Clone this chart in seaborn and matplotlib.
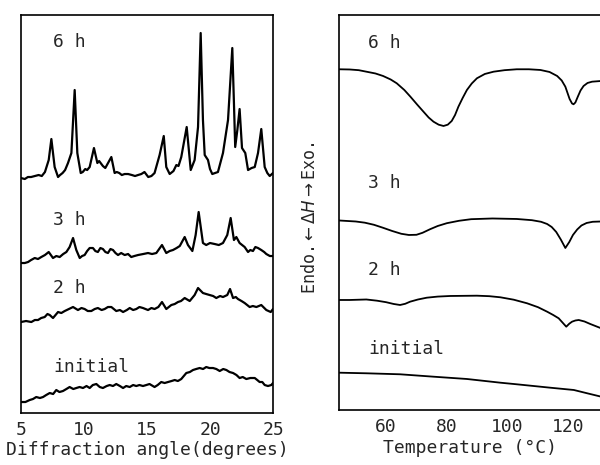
import numpy as np
import pandas as pd
import matplotlib
matplotlib.use('Agg')
import matplotlib.pyplot as plt
import seaborn as sns

# ── XRD data (angle in degrees, intensity in arbitrary units incl. offset) ──
xrd_6h_angle = [5.0, 5.3, 5.55, 5.8, 6.1, 6.4, 6.65, 6.9, 7.2, 7.41, 7.67, 7.94, 8.1, 8.3,
                8.5, 8.73, 9.0, 9.26, 9.47, 9.74, 9.9, 10.1, 10.25, 10.45, 10.79, 11.06,
                11.2, 11.32, 11.5, 11.69, 12.17, 12.43, 12.6, 12.8, 13.0, 13.23, 13.5,
                13.8, 14.05, 14.29, 14.55, 14.8, 15.1, 15.35, 15.6, 16.0, 16.33, 16.53,
                16.8, 17.1, 17.33, 17.5, 17.72, 18.15, 18.47, 18.78, 19.05, 19.26, 19.44,
                19.58, 19.84, 20.0, 20.18, 20.4, 20.63, 21.03, 21.43, 21.77, 21.9, 22.0,
                22.17, 22.35, 22.54, 22.8, 23.02, 23.3, 23.55, 23.81, 24.07, 24.34, 24.55,
                24.74, 25.0]
xrd_6h_int = [235, 234, 236, 236, 237, 238, 237, 241, 253, 274, 246, 236, 238, 240,
              243, 250, 260, 323, 260, 240, 241, 244, 243, 246, 265, 250,
              252, 250, 247, 245, 256, 240, 241, 240, 238, 239, 239,
              238, 237, 238, 239, 241, 236, 237, 240, 258, 277, 246,
              239, 242, 248, 247, 256, 286, 243, 253, 286, 380, 293,
              258, 253, 244, 239, 240, 241, 260, 293, 365, 310, 266,
              283, 304, 265, 260, 243, 245, 246, 260, 284, 246, 240,
              237, 240]

xrd_3h_angle = [5.0, 5.3, 5.56, 5.8, 6.09, 6.35, 6.61, 6.9, 7.2, 7.54, 7.8, 8.07, 8.35,
                8.6, 8.86, 9.13, 9.39, 9.66, 9.85, 10.05, 10.25, 10.45, 10.71, 10.9, 11.1,
                11.3, 11.5, 11.7, 11.9, 12.1, 12.3, 12.5, 12.7, 12.95, 13.23, 13.5, 13.75,
                14.0, 14.29, 14.7, 15.08, 15.4, 15.74, 16.19, 16.53, 16.8, 17.06, 17.35,
                17.6, 17.99, 18.25, 18.6, 18.86, 19.1, 19.44, 19.7, 20.0, 20.37, 20.7,
                21.03, 21.37, 21.64, 21.9, 22.09, 22.35, 22.55, 22.75, 23.02, 23.2, 23.41,
                23.6, 23.81, 24.07, 24.3, 24.47, 24.75, 25.0]
xrd_3h_int = [150, 150, 151, 153, 155, 154, 156, 158, 161, 155, 157, 156, 159,
              161, 166, 175, 163, 155, 157, 158, 162, 165, 165, 162, 161,
              165, 164, 161, 160, 164, 163, 160, 158, 160, 158, 159, 156,
              157, 158, 159, 160, 159, 160, 168, 160, 162, 163, 165,
              167, 176, 168, 162, 178, 201, 170, 168, 170, 169, 168,
              170, 178, 195, 173, 176, 170, 168, 166, 161, 163, 162,
              166, 165, 163, 161, 159, 157, 157]

xrd_2h_angle = [5.0, 5.4, 5.82, 6.1, 6.35, 6.6, 6.88, 7.1, 7.28, 7.54, 7.94, 8.2, 8.47,
                8.8, 9.13, 9.52, 9.8, 10.05, 10.3, 10.58, 10.85, 11.1, 11.4, 11.64, 11.9,
                12.17, 12.56, 12.85, 13.1, 13.4, 13.63, 13.9, 14.15, 14.4, 14.68, 15.08,
                15.35, 15.6, 15.9, 16.19, 16.53, 16.93, 17.2, 17.46, 17.7, 17.99, 18.39,
                18.78, 19.05, 19.44, 19.7, 19.97, 20.25, 20.5, 20.8, 21.03, 21.37, 21.59,
                21.83, 22.05, 22.22, 22.5, 22.75, 23.15, 23.4, 23.68, 24.07, 24.47, 24.82,
                25.0]
xrd_2h_int = [91, 92, 91, 93, 93, 95, 96, 99, 98, 95, 101, 100, 102,
              104, 106, 103, 105, 104, 102, 102, 104, 105, 103, 104, 106,
              106, 102, 103, 101, 103, 105, 103, 104, 106, 105, 103,
              105, 104, 106, 111, 104, 108, 109, 111, 112, 115, 112,
              118, 125, 120, 119, 118, 117, 115, 117, 116, 118, 124,
              115, 116, 114, 112, 110, 106, 107, 106, 108, 103, 101,
              104]

xrd_init_angle = [5.0, 5.35, 5.69, 5.95, 6.21, 6.5, 6.75, 7.0, 7.28, 7.55, 7.8, 8.05, 8.33,
                  8.6, 8.86, 9.15, 9.39, 9.65, 9.92, 10.2, 10.45, 10.7, 10.98, 11.25, 11.5,
                  11.8, 12.04, 12.3, 12.56, 12.85, 13.1, 13.35, 13.63, 13.9, 14.15, 14.4,
                  14.68, 14.95, 15.2, 15.6, 15.85, 16.13, 16.4, 16.67, 16.95, 17.2, 17.45,
                  17.72, 18.12, 18.4, 18.65, 18.9, 19.18, 19.45, 19.7, 19.95, 20.24, 20.5,
                  20.77, 21.05, 21.3, 21.55, 21.83, 22.1, 22.35, 22.6, 22.88, 23.2, 23.55,
                  23.75, 23.94, 24.15, 24.34, 24.6, 24.87, 25.0]
xrd_init_int = [11, 11, 13, 14, 16, 15, 16, 18, 20, 19, 23, 21, 22,
                24, 26, 24, 25, 26, 25, 27, 25, 28, 29, 26, 25,
                27, 28, 27, 29, 27, 25, 27, 26, 28, 27, 28,
                27, 28, 29, 26, 28, 31, 30, 31, 32, 33, 32,
                34, 40, 41, 43, 44, 45, 44, 46, 45, 45, 44,
                42, 44, 43, 41, 40, 38, 35, 36, 34, 35, 35,
                33, 31, 31, 28, 27, 28, 30]

# ── DSC data (temperature in °C, heat flow in arbitrary units incl. offset) ──
dsc_6h_temp = [44.5, 48, 51, 53.5, 56.5, 59, 61.5, 63.5, 66, 68, 70.2, 72.3, 74, 75.6,
               77.3, 78.9, 80.3, 81.6, 82.7, 83.8, 85.2, 86.6, 88.2, 89.9, 92.5, 95.4,
               99, 103, 107, 110.8, 113.8, 116.3, 117.8, 119, 120.4, 121.2, 121.7, 122.3,
               123.1, 124, 125, 126.3, 127.8, 130.8]
dsc_6h_val = [340.7, 340.5, 339.8, 338.3, 336.5, 334, 330.5, 326.7, 320, 313.3, 305.5,
              298.3, 292.5, 288.3, 285.3, 284, 285.3, 289, 295, 303.3, 312, 320, 326.5,
              331.7, 336, 338.3, 339.8, 340.7, 340.7, 340, 338, 334, 329.5, 323.3, 311,
              306.5, 305.7, 307.5, 313.3, 319.5, 324, 327, 328.3, 329]

dsc_3h_temp = [44.5, 50, 53, 56, 59, 62, 65, 67.5, 70, 72, 74.5, 77, 80, 84, 88, 95, 103,
               108, 111, 113, 114.5, 116, 117.5, 119, 120.3, 121.5, 122.9, 124.3, 126,
               128, 130.8]
dsc_3h_val = [189.5, 188.5, 187.3, 185.2, 182.2, 179, 176.2, 175, 175.2, 177.2, 180.8,
              184, 186.8, 189.2, 190.8, 191.5, 191, 189.8, 188.2, 186, 183, 178, 170.5,
              162, 168, 175, 180.5, 184.5, 187, 188.2, 188.5]

dsc_2h_temp = [44.5, 48, 53.5, 57, 60, 62.5, 64.6, 66.3, 67.9, 70.5, 73.4, 77, 81.1, 89.9,
               94, 97.6, 102, 106.4, 110, 113, 115, 116.8, 118.2, 119.3, 120.3, 121.2,
               122.3, 123.4, 125.3, 127.2, 130.8]
dsc_2h_val = [110, 110, 110.5, 109.3, 107.8, 106, 105, 106.2, 108.3, 110.5, 112.3, 113.4,
              114, 114.3, 113.8, 112.7, 110.3, 106.7, 102.8, 98.3, 95, 91.7, 87, 83.3,
              86.3, 88.3, 89.5, 90, 88.5, 86, 81.7]

dsc_init_temp = [44.5, 53.5, 64.6, 75.6, 86.6, 97.6, 103, 114, 121.8, 126.2, 130.8]
dsc_init_val = [37.3, 36.7, 35.7, 33.3, 31, 27.3, 25.7, 22.3, 20, 16.7, 13.3]

sample_labels = ['6 h', '3 h', '2 h', 'initial']
xrd_label_y = [0.932, 0.485, 0.314, 0.116]
dsc_label_y = [0.929, 0.575, 0.354, 0.154]

xrd = pd.concat([
    pd.DataFrame({'angle': a, 'intensity': v, 'sample': s})
    for a, v, s in zip([xrd_6h_angle, xrd_3h_angle, xrd_2h_angle, xrd_init_angle],
                       [xrd_6h_int, xrd_3h_int, xrd_2h_int, xrd_init_int], sample_labels)])
dsc = pd.concat([
    pd.DataFrame({'temp': t, 'heat': v, 'sample': s})
    for t, v, s in zip([dsc_6h_temp, dsc_3h_temp, dsc_2h_temp, dsc_init_temp],
                       [dsc_6h_val, dsc_3h_val, dsc_2h_val, dsc_init_val], sample_labels)])

sns.set_style('white')
plt.rcParams['font.family'] = ['DejaVu Sans Mono', 'DejaVu Sans']
plt.rcParams['mathtext.fontset'] = 'dejavusans'

fig = plt.figure(figsize=(6, 4.65), dpi=100)
ax1 = fig.add_axes([0.035, 0.1118, 0.42, 0.8559])
ax2 = fig.add_axes([0.565, 0.1183, 0.437, 0.8495])

black = {s: 'black' for s in sample_labels}

# ── Left: X-ray diffraction ──
sns.lineplot(data=xrd, x='angle', y='intensity', hue='sample', palette=black,
             units='sample', estimator=None, sort=False, legend=False, lw=1.6, ax=ax1)
ax1.set_xlim(5, 25)
ax1.set_ylim(0, 398)
ax1.set_yticks([])
ax1.set_xticks([5, 10, 15, 20, 25])
ax1.tick_params(axis='x', direction='in', length=6, width=1.2, labelsize=13, pad=6)
ax1.set_xlabel('Diffraction angle(degrees)', fontsize=13, labelpad=1)
ax1.set_ylabel('')
for sp in ax1.spines.values():
    sp.set_linewidth(1.2)
    sp.set_color('black')
for lbl, yy in zip(sample_labels, xrd_label_y):
    ax1.text(0.127, yy, lbl, transform=ax1.transAxes, fontsize=13, ha='left', va='center')

# ── Right: DSC ──
sns.lineplot(data=dsc, x='temp', y='heat', hue='sample', palette=black,
             units='sample', estimator=None, sort=False, legend=False, lw=1.3, ax=ax2)
ax2.set_xlim(44.5, 130.8)
ax2.set_ylim(0, 395)
ax2.set_yticks([])
ax2.set_xticks([60, 80, 100, 120])
ax2.set_xticks([50, 70, 90, 110, 130], minor=True)
ax2.tick_params(axis='x', which='both', direction='in', length=7, width=1.2,
                labelsize=13, pad=6)
ax2.set_xlabel('Temperature (°C)', fontsize=13, labelpad=2)
ax2.set_ylabel(r'Endo.$\leftarrow\Delta H\rightarrow$Exo.', fontsize=12)
ax2.yaxis.set_label_coords(-0.075, 0.486)
ax2.spines['right'].set_visible(False)
for sp in ['left', 'bottom', 'top']:
    ax2.spines[sp].set_linewidth(1.2)
    ax2.spines[sp].set_color('black')
for lbl, yy in zip(sample_labels, dsc_label_y):
    ax2.text(0.111, yy, lbl, transform=ax2.transAxes, fontsize=13, ha='left', va='center')

fig.savefig('out.png', dpi=100)
plt.close(fig)
